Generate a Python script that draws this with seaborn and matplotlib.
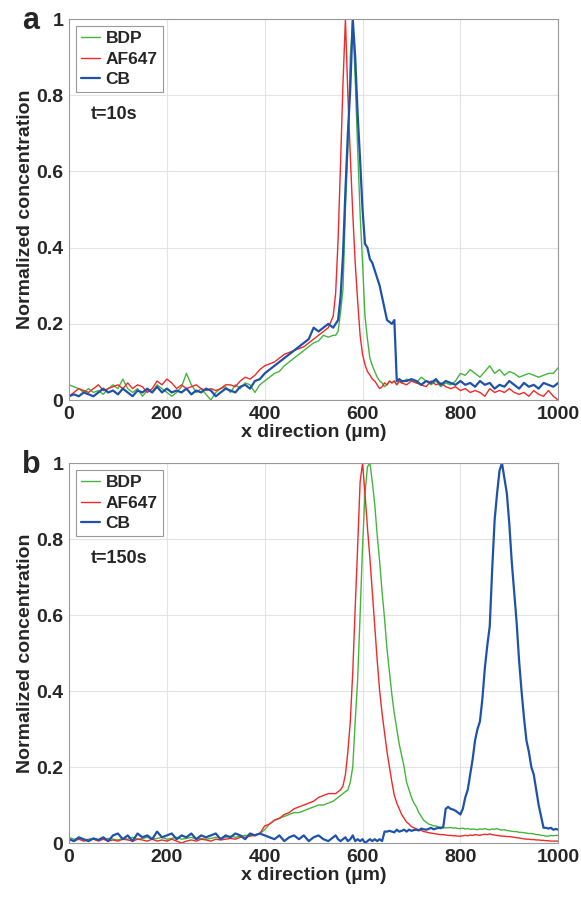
import matplotlib
matplotlib.use("Agg")
import matplotlib.pyplot as plt
import pandas as pd
import seaborn as sns

# ---- panel a (t=10s) ----
x_a = (list(range(0, 541, 10)) + list(range(545, 681, 5)) + list(range(690, 1001, 10)))

bdp_a = [0.04, 0.035, 0.03, 0.02, 0.03, 0.02, 0.025, 0.015, 0.03, 0.04, 0.03, 0.055, 0.03, 0.02,
         0.03, 0.01, 0.025, 0.02, 0.04, 0.03, 0.02, 0.01, 0.02, 0.035, 0.07, 0.04, 0.02, 0.03,
         0.015, 0.0, 0.02, 0.03, 0.035, 0.02, 0.04, 0.03, 0.045, 0.04, 0.02, 0.04, 0.05, 0.06,
         0.07, 0.075, 0.09, 0.1, 0.11, 0.12, 0.13, 0.14, 0.15, 0.155, 0.17, 0.165, 0.17,
         0.17, 0.18, 0.23, 0.29, 0.5, 0.66, 0.9, 1.0, 0.84, 0.66, 0.49, 0.36, 0.22, 0.16, 0.11,
         0.09, 0.075, 0.06, 0.05, 0.045, 0.035, 0.04, 0.05, 0.045, 0.05, 0.04, 0.05, 0.045,
         0.055, 0.05, 0.045, 0.06, 0.05, 0.04, 0.05, 0.035, 0.045, 0.04, 0.05, 0.07, 0.065,
         0.08, 0.07, 0.06, 0.075, 0.09, 0.07, 0.08, 0.065, 0.075, 0.07, 0.06, 0.065, 0.07,
         0.065, 0.06, 0.065, 0.07, 0.07, 0.085]
af_a = [0.01, 0.02, 0.03, 0.025, 0.02, 0.03, 0.04, 0.025, 0.03, 0.035, 0.04, 0.03, 0.045, 0.03,
        0.04, 0.035, 0.02, 0.03, 0.05, 0.04, 0.055, 0.045, 0.03, 0.04, 0.03, 0.035, 0.04, 0.03,
        0.025, 0.03, 0.025, 0.03, 0.04, 0.04, 0.035, 0.05, 0.06, 0.055, 0.065, 0.08, 0.09,
        0.095, 0.1, 0.11, 0.12, 0.125, 0.13, 0.135, 0.14, 0.15, 0.16, 0.17, 0.18, 0.19, 0.22,
        0.28, 0.42, 0.62, 0.83, 1.0, 0.8, 0.64, 0.49, 0.36, 0.26, 0.17, 0.12, 0.093, 0.075,
        0.066, 0.055, 0.05, 0.04, 0.03, 0.035, 0.045, 0.04, 0.05, 0.045, 0.05, 0.04, 0.05,
        0.045,
        0.04, 0.05, 0.045, 0.04, 0.035, 0.05, 0.04, 0.045, 0.035, 0.03, 0.035, 0.025, 0.03,
        0.02, 0.025, 0.02, 0.01, 0.03, 0.02, 0.025, 0.02, 0.03, 0.02, 0.015, 0.02, 0.01,
        0.025, 0.015, 0.01, 0.025, 0.01, 0.0]
cb_a = [0.01, 0.015, 0.01, 0.02, 0.015, 0.01, 0.02, 0.03, 0.02, 0.025, 0.015, 0.03, 0.02, 0.01,
        0.025, 0.02, 0.03, 0.02, 0.035, 0.02, 0.03, 0.02, 0.025, 0.02, 0.03, 0.015, 0.025, 0.02,
        0.03, 0.025, 0.01, 0.02, 0.03, 0.025, 0.02, 0.035, 0.04, 0.03, 0.05, 0.055, 0.07, 0.08,
        0.09, 0.1, 0.11, 0.12, 0.13, 0.14, 0.15, 0.16, 0.19, 0.18, 0.19, 0.2, 0.19,
        0.2, 0.21, 0.27, 0.38, 0.55, 0.7, 0.82, 1.0, 0.9, 0.75, 0.63, 0.5, 0.41, 0.4, 0.37,
        0.36, 0.34, 0.32, 0.3, 0.27, 0.24, 0.21, 0.205, 0.2, 0.21, 0.05, 0.055, 0.05,
        0.05, 0.055, 0.05, 0.04, 0.05, 0.045, 0.055, 0.04, 0.05, 0.045, 0.04, 0.05, 0.04,
        0.045, 0.035, 0.05, 0.04, 0.045, 0.03, 0.04, 0.035, 0.05, 0.04, 0.03, 0.045, 0.035,
        0.04, 0.03, 0.045, 0.04, 0.035, 0.045]

# ---- panel b (t=150s) ----
x_b = list(range(0, 541, 10)) + list(range(545, 1001, 5))

bdp_b = [0.015, 0.01, 0.012, 0.008, 0.01, 0.012, 0.008, 0.01, 0.012, 0.01, 0.008, 0.012, 0.01,
         0.015, 0.01, 0.012, 0.015, 0.01, 0.012, 0.015, 0.01, 0.012, 0.015, 0.01, 0.012, 0.015,
         0.01, 0.012, 0.01, 0.012, 0.015, 0.012, 0.015, 0.018, 0.015, 0.018, 0.02, 0.02, 0.022,
         0.025, 0.035, 0.05, 0.06, 0.065, 0.07, 0.075, 0.08, 0.08, 0.085, 0.09, 0.095, 0.1, 0.1,
         0.105, 0.11,
         0.115, 0.12, 0.125, 0.13, 0.135, 0.14, 0.16, 0.2, 0.32, 0.43, 0.6, 0.78, 0.92, 0.99,
         1.0, 0.95, 0.89, 0.81, 0.74, 0.66, 0.59, 0.51, 0.45, 0.39, 0.34, 0.3, 0.26, 0.23, 0.2,
         0.16, 0.14, 0.12,
         0.105, 0.095, 0.08, 0.07, 0.06, 0.055, 0.05, 0.048, 0.045, 0.045, 0.042, 0.042, 0.04,
         0.04, 0.04, 0.041, 0.039, 0.04, 0.038, 0.038,
         0.039, 0.037, 0.038, 0.036, 0.037, 0.036, 0.035, 0.037, 0.036, 0.038, 0.036, 0.035,
         0.037, 0.036, 0.038, 0.035, 0.034, 0.035, 0.033, 0.032,
         0.031, 0.03, 0.03, 0.028, 0.028, 0.027, 0.026, 0.025, 0.025, 0.024, 0.022, 0.022, 0.02,
         0.02, 0.018, 0.018, 0.02, 0.019, 0.02, 0.02]
af_b = [0.01, 0.005, 0.01, 0.005, 0.008, 0.01, 0.005, 0.01, 0.005, 0.008, 0.005, 0.01, 0.008,
        0.005, 0.01, 0.008, 0.005, 0.01, 0.005, 0.008, 0.005, 0.01, 0.005, 0.0, 0.005, 0.008,
        0.005, 0.01, 0.008, 0.005, 0.01, 0.008, 0.01, 0.012, 0.01, 0.015, 0.015, 0.018, 0.02,
        0.025, 0.045, 0.05, 0.06, 0.065, 0.075, 0.08, 0.09, 0.095, 0.1, 0.105, 0.11, 0.12,
        0.125, 0.13, 0.13,
        0.13, 0.135, 0.14, 0.15, 0.18, 0.24, 0.32, 0.45, 0.62, 0.78, 0.95, 1.0, 0.92, 0.83,
        0.75, 0.66, 0.57, 0.48, 0.4, 0.34, 0.29, 0.24, 0.2, 0.16, 0.125, 0.105, 0.09, 0.075,
        0.065, 0.055, 0.05, 0.043,
        0.04, 0.037, 0.035, 0.033, 0.03, 0.029, 0.027, 0.026, 0.025, 0.024, 0.023, 0.022,
        0.022, 0.021, 0.02, 0.02, 0.019, 0.019, 0.018, 0.018,
        0.019, 0.02, 0.019, 0.021, 0.02, 0.022, 0.021, 0.02, 0.022, 0.023, 0.022, 0.024,
        0.022, 0.021, 0.02, 0.019, 0.018, 0.018, 0.017, 0.017,
        0.016, 0.015, 0.014, 0.013, 0.012, 0.011, 0.01, 0.01, 0.009, 0.009, 0.008, 0.008,
        0.007, 0.007, 0.006, 0.006, 0.005, 0.005, 0.005, 0.005]
cb_b = [0.01, 0.005, 0.015, 0.01, 0.005, 0.012, 0.008, 0.015, 0.005, 0.02, 0.025, 0.01, 0.02,
        0.005, 0.025, 0.015, 0.02, 0.01, 0.03, 0.015, 0.02, 0.025, 0.01, 0.02, 0.015, 0.025,
        0.01, 0.02, 0.015, 0.02, 0.025, 0.01, 0.02, 0.015, 0.025, 0.02, 0.01, 0.025, 0.02,
        0.025, 0.02, 0.015, 0.01, 0.02, 0.005, 0.015, 0.02, 0.01, 0.02, 0.005, 0.015, 0.02,
        0.01, 0.005, 0.015,
        0.02, 0.01, 0.005, 0.01, 0.015, 0.005, 0.01, 0.02, 0.005, 0.01, 0.005, 0.01, 0.0,
        0.005, 0.01, 0.005, 0.01, 0.005, 0.01, 0.005,
        0.03, 0.03, 0.032, 0.03, 0.028, 0.035, 0.03, 0.032, 0.035, 0.03, 0.035, 0.032, 0.034,
        0.035, 0.033, 0.038, 0.036, 0.035, 0.037, 0.04, 0.036, 0.038, 0.04, 0.039, 0.042,
        0.09, 0.095, 0.09, 0.088, 0.085, 0.08, 0.075, 0.09, 0.12, 0.14, 0.18, 0.22, 0.27, 0.3,
        0.32, 0.38, 0.46, 0.52, 0.57, 0.72, 0.85, 0.92, 0.98, 1.0, 0.96, 0.92, 0.84, 0.74,
        0.66, 0.58, 0.48, 0.4, 0.33, 0.27, 0.24, 0.2, 0.18, 0.14, 0.1, 0.07, 0.04, 0.04,
        0.038, 0.04, 0.035, 0.037, 0.035]

labels = ["BDP", "AF647", "CB"]
colors = ["#45b53c", "#ee2a2a", "#1f52a8"]
widths = [1.0, 1.0, 1.6]
x_ticks = [0, 200, 400, 600, 800, 1000]
y_ticks = [0, 0.2, 0.4, 0.6, 0.8, 1]
y_ticklabels = ["0", "0.2", "0.4", "0.6", "0.8", "1"]

sns.set_style("whitegrid")
plt.rcParams["font.family"] = ["Liberation Sans", "DejaVu Sans"]
plt.rcParams["font.weight"] = "bold"

fig = plt.figure(figsize=(5.81, 8.97), dpi=100)
ax_a = fig.add_axes([0.1188, 0.554, 0.842, 0.4248])
ax_b = fig.add_axes([0.1188, 0.0602, 0.842, 0.4236])

panels = [
    (ax_a, x_a, [bdp_a, af_a, cb_a], "a", "t=10s"),
    (ax_b, x_b, [bdp_b, af_b, cb_b], "b", "t=150s"),
]

for ax, xs, series, tag, note in panels:
    for lab, ys, col, lw in zip(labels, series, colors, widths):
        df = pd.DataFrame({"x": xs, "y": ys})
        sns.lineplot(data=df, x="x", y="y", ax=ax, color=col, linewidth=lw,
                     label=lab, estimator=None, sort=False)
    ax.set_xlim(0, 1000)
    ax.set_ylim(0, 1)
    ax.set_xticks(x_ticks)
    ax.set_yticks(y_ticks)
    ax.set_yticklabels(y_ticklabels)
    ax.tick_params(labelsize=14, direction="in", length=3, color="#888888", pad=4)
    for t in ax.get_xticklabels() + ax.get_yticklabels():
        t.set_fontweight("bold")
    ax.grid(True, color="#e3e3e3", linewidth=0.8)
    for sp in ax.spines.values():
        sp.set_color("#999999")
        sp.set_linewidth(0.8)
    ax.set_xlabel("x direction (µm)", fontsize=14, fontweight="bold", labelpad=1)
    ax.set_ylabel("Normalized concentration", fontsize=14, fontweight="bold", labelpad=2)
    leg = ax.legend(loc="upper left", fontsize=12.5, handlelength=1.1, handletextpad=0.3,
                    borderpad=0.3, labelspacing=0.3, borderaxespad=0.4, fancybox=False,
                    framealpha=1)
    leg.get_frame().set_edgecolor("#999999")
    leg.get_frame().set_linewidth(0.8)
    for t in leg.get_texts():
        t.set_fontweight("bold")
    ax.text(0.045, 0.75, note, transform=ax.transAxes, fontsize=13, fontweight="bold",
            va="center", ha="left")
    ax.text(-0.078, 0.995, tag, transform=ax.transAxes, fontsize=22, fontweight="bold",
            va="center", ha="center")

fig.savefig("out.png", dpi=100)
